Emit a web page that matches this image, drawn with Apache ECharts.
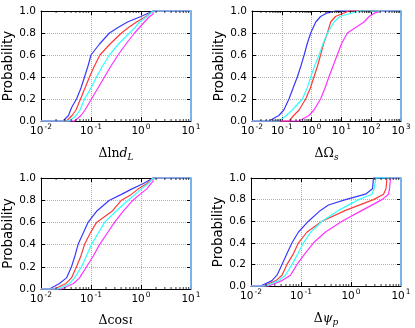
<!DOCTYPE html>
<html>
<head>
<meta charset="utf-8">
<script src="https://cdn.jsdelivr.net/npm/echarts@6/dist/echarts.min.js"></script>
<style>
html,body{margin:0;padding:0;background:#fff;}
#main{width:415px;height:328px;}
</style>
</head>
<body>
<div id="main"></div>
<script>
// cumulative distributions, [x, probability]
var dlnd_blue    = [[0.0275,0],[0.0355,0.05],[0.0407,0.12],[0.0513,0.2],[0.0631,0.3],[0.0741,0.4],[0.0871,0.5],[0.1,0.6],[0.148,0.7],[0.234,0.8],[0.347,0.85],[0.537,0.9],[1.0,0.95],[1.74,1.0]];
var dlnd_red     = [[0.0324,0],[0.0417,0.05],[0.0501,0.1],[0.0617,0.2],[0.0759,0.3],[0.0933,0.4],[0.117,0.5],[0.151,0.6],[0.240,0.7],[0.407,0.8],[0.562,0.85],[0.813,0.9],[1.26,0.95],[1.74,1.0]];
var dlnd_cyan    = [[0.0372,0],[0.0501,0.05],[0.0603,0.1],[0.0741,0.2],[0.1,0.3],[0.129,0.4],[0.170,0.5],[0.234,0.6],[0.355,0.7],[0.589,0.8],[0.759,0.85],[0.933,0.9],[1.32,0.95],[1.74,1.0]];
var dlnd_magenta = [[0.0468,0],[0.0631,0.05],[0.0759,0.1],[0.102,0.2],[0.138,0.3],[0.186,0.4],[0.251,0.5],[0.347,0.6],[0.501,0.7],[0.741,0.8],[0.933,0.85],[1.17,0.9],[1.48,0.95],[1.74,0.97],[1.74,1.0]];

var dom_blue    = [[0.0372,0],[0.0794,0.05],[0.117,0.1],[0.174,0.2],[0.240,0.3],[0.331,0.4],[0.437,0.5],[0.562,0.6],[0.708,0.7],[0.933,0.8],[1.38,0.9],[2.0,0.95],[3.16,0.98],[6.46,1.0]];
var dom_red     = [[0.174,0],[0.251,0.05],[0.380,0.1],[0.631,0.2],[0.912,0.3],[1.20,0.4],[1.58,0.5],[2.0,0.6],[2.51,0.7],[3.39,0.8],[4.37,0.9],[6.31,0.95],[17.8,1.0]];
var dom_cyan    = [[0.0813,0],[0.141,0.05],[0.224,0.1],[0.490,0.2],[0.708,0.3],[0.933,0.4],[1.26,0.5],[1.78,0.6],[2.40,0.7],[3.39,0.8],[5.62,0.9],[8.91,0.95],[39.8,1.0]];
var dom_magenta = [[0.380,0],[0.813,0.05],[1.20,0.1],[2.0,0.2],[2.82,0.3],[3.80,0.4],[5.25,0.5],[7.24,0.6],[10,0.7],[15.8,0.8],[30.2,0.85],[57.5,0.9],[85.1,0.95],[126,0.98],[234,1.0]];

var dcos_blue    = [[0.0148,0],[0.0234,0.05],[0.0324,0.1],[0.0407,0.2],[0.0479,0.3],[0.0550,0.4],[0.0692,0.5],[0.0871,0.6],[0.129,0.7],[0.234,0.8],[0.398,0.85],[0.646,0.9],[1.12,0.95],[1.74,1.0]];
var dcos_red     = [[0.0186,0],[0.0316,0.05],[0.0407,0.1],[0.0513,0.2],[0.0631,0.3],[0.0741,0.4],[0.0955,0.5],[0.129,0.6],[0.263,0.7],[0.407,0.8],[0.631,0.85],[0.871,0.9],[1.32,0.95],[1.74,1.0]];
var dcos_cyan    = [[0.0219,0],[0.0372,0.05],[0.0468,0.1],[0.0646,0.2],[0.0813,0.3],[0.102,0.4],[0.138,0.5],[0.186,0.6],[0.316,0.7],[0.550,0.8],[0.759,0.85],[1.0,0.9],[1.41,0.95],[1.74,1.0]];
var dcos_magenta = [[0.0257,0],[0.0447,0.05],[0.0589,0.1],[0.0813,0.2],[0.112,0.3],[0.148,0.4],[0.209,0.5],[0.295,0.6],[0.437,0.7],[0.692,0.8],[0.933,0.85],[1.29,0.9],[1.58,0.95],[1.74,0.97],[1.74,1.0]];

var dpsi_blue    = [[0.0155,0],[0.0263,0.05],[0.0331,0.1],[0.0417,0.2],[0.0525,0.3],[0.0661,0.4],[0.0891,0.5],[0.141,0.6],[0.245,0.7],[0.355,0.75],[0.776,0.8],[1.95,0.85],[2.69,0.9],[2.82,1.0]];
var dpsi_red     = [[0.0178,0],[0.0316,0.05],[0.0417,0.1],[0.0525,0.2],[0.0708,0.3],[0.0891,0.4],[0.132,0.5],[0.263,0.6],[0.776,0.7],[2.82,0.8],[4.47,0.85],[5.01,0.9],[5.25,1.0]];
var dpsi_cyan    = [[0.0195,0],[0.0355,0.05],[0.0490,0.1],[0.0661,0.2],[0.0871,0.3],[0.112,0.4],[0.158,0.5],[0.263,0.6],[0.562,0.7],[1.41,0.8],[2.63,0.85],[2.88,0.9],[3.16,1.0]];
var dpsi_magenta = [[0.0224,0],[0.0417,0.05],[0.0617,0.1],[0.0832,0.2],[0.120,0.3],[0.178,0.4],[0.309,0.5],[0.661,0.6],[1.66,0.7],[4.17,0.8],[5.62,0.85],[5.89,0.9],[6.17,1.0]];

// drawing order blue, red, magenta, cyan (cyan ends up on top, as in the figure)
var colors = ['#3a3aff', '#ff3a3a', '#ff33ff', '#33ffff'];

var panels = [
  {xmin: 0.01, xmax: 10,   name: '{r|Δln}{i|d}{sub|L}', lines: [dlnd_blue, dlnd_red, dlnd_magenta, dlnd_cyan], grid: {left: 41, top: 11, width: 150, height: 110}},
  {xmin: 0.01, xmax: 1000, name: '{r|ΔΩ}{sub|s}',       lines: [dom_blue, dom_red, dom_magenta, dom_cyan],         grid: {left: 252, top: 11, width: 149, height: 110}},
  {xmin: 0.01, xmax: 10,   name: '{r|Δcos}{i|ι}',        lines: [dcos_blue, dcos_red, dcos_magenta, dcos_cyan],     grid: {left: 41, top: 178, width: 150, height: 112}},
  {xmin: 0.01, xmax: 10,   name: '{r|Δ}{i|ψ}{sub|p}',    lines: [dpsi_blue, dpsi_red, dpsi_magenta, dpsi_cyan],     grid: {left: 251, top: 178, width: 150, height: 112}}
];

var sans = 'DejaVu Sans';
var serif = 'DejaVu Serif';

function powLabel(v) {
  var e = Math.round(Math.log(v) / Math.LN10);
  return '{b|10}{s|' + e + '}';
}

var grids = [], xAxes = [], yAxes = [], series = [];

panels.forEach(function (p, i) {
  grids.push(p.grid);
  // bottom (labelled) and top (ticks only) log axes
  xAxes.push({
    type: 'log', logBase: 10, gridIndex: i, min: p.xmin, max: p.xmax, interval: 1,
    name: p.name, nameLocation: 'middle', nameGap: 25,
    nameTextStyle: {
      rich: {
        r: {fontFamily: serif, fontSize: 12.5, color: '#000'},
        i: {fontFamily: serif, fontSize: 12.5, fontStyle: 'italic', color: '#000'},
        sub: {fontFamily: serif, fontSize: 9, fontStyle: 'italic', color: '#000', padding: [7, 0, 0, 0]}
      }
    },
    axisLine: {show: true, onZero: false, lineStyle: {color: '#000', width: 1}},
    axisTick: {show: true, inside: true, length: 4, lineStyle: {color: '#000'}},
    axisLabel: {
      formatter: powLabel, margin: 2, showMinLabel: true, showMaxLabel: true,
      rich: {
        b: {fontFamily: sans, fontSize: 10.5, color: '#000'},
        s: {fontFamily: sans, fontSize: 7.5, color: '#000', padding: [0, 0, 8, 1]}
      }
    },
    splitLine: {show: true, lineStyle: {color: '#b0b0b0', type: 'dotted', width: 1}}
  });
  xAxes.push({
    type: 'log', logBase: 10, gridIndex: i, min: p.xmin, max: p.xmax, interval: 1, position: 'top',
    axisLine: {show: true, onZero: false, lineStyle: {color: '#000', width: 1}},
    axisTick: {show: true, inside: true, length: 4, lineStyle: {color: '#000'}},
    axisLabel: {show: false}, splitLine: {show: false}
  });
  yAxes.push({
    type: 'value', gridIndex: i, min: 0, max: 1, interval: 0.2,
    name: 'Probability', nameLocation: 'middle', nameGap: 24, nameRotate: 90,
    nameTextStyle: {fontFamily: sans, fontSize: 13.3, color: '#000'},
    axisLine: {show: true, onZero: false, lineStyle: {color: '#000', width: 1}},
    axisTick: {show: true, inside: true, length: 4, lineStyle: {color: '#000'}},
    axisLabel: {
      margin: 5, fontFamily: sans, fontSize: 10.5, color: '#000',
      formatter: function (v) { return v.toFixed(1); }
    },
    splitLine: {show: true, lineStyle: {color: '#b0b0b0', type: 'dotted', width: 1}}
  });
  // right spine: the curves close down onto it, so it shows their last colour
  yAxes.push({
    type: 'value', gridIndex: i, min: 0, max: 1, interval: 0.2, position: 'right',
    axisLine: {show: false},
    axisTick: {show: true, inside: true, length: 4, lineStyle: {color: '#000'}},
    axisLabel: {show: false}, splitLine: {show: false}
  });

  // the CDF step outlines: start at the left edge, close down at the right edge
  p.lines.forEach(function (pts, k) {
    var d = [[p.xmin, 0]].concat(pts, [[p.xmax, 1], [p.xmax, 0]]);
    series.push({
      type: 'line', xAxisIndex: 2 * i, yAxisIndex: 2 * i, data: d, clip: false,
      showSymbol: false, symbol: 'none', silent: true, z: 3,
      lineStyle: {color: colors[k], width: 1.2}
    });
  });

  // minor log ticks (2..9 per decade) on bottom and top
  var minor = [];
  for (var dec = p.xmin; dec < p.xmax * 0.999; dec *= 10) {
    for (var m = 2; m <= 9; m++) minor.push([dec * m, 0]);
  }
  series.push({
    type: 'custom', xAxisIndex: 2 * i, yAxisIndex: 2 * i, data: minor, silent: true, z: 10,
    renderItem: function (params, api) {
      var b = api.coord([api.value(0), 0]);
      var t = api.coord([api.value(0), 1]);
      var st = {stroke: '#000', lineWidth: 0.8};
      return {type: 'group', children: [
        {type: 'line', shape: {x1: b[0], y1: b[1], x2: b[0], y2: b[1] - 2}, style: st},
        {type: 'line', shape: {x1: t[0], y1: t[1], x2: t[0], y2: t[1] + 2}, style: st}
      ]};
    }
  });
});

var myChart = echarts.init(document.getElementById('main'));
myChart.setOption({
  animation: false,
  backgroundColor: '#fff',
  grid: grids,
  xAxis: xAxes,
  yAxis: yAxes,
  series: series
});
window.addEventListener('resize', function () { myChart.resize(); });
</script>
</body>
</html>
